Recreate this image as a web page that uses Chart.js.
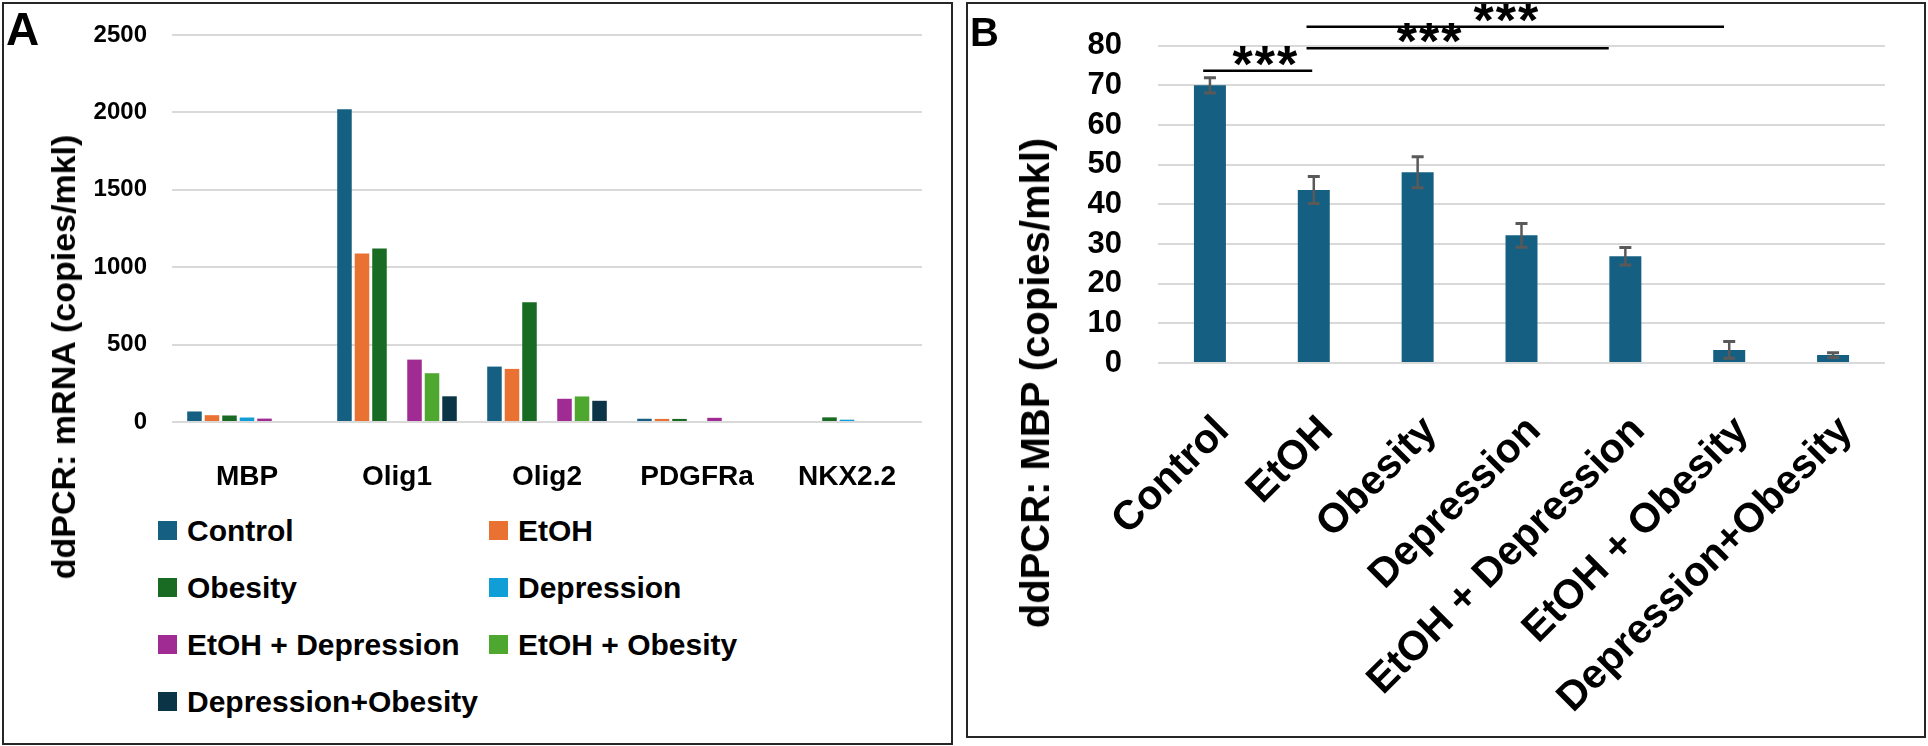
<!DOCTYPE html>
<html>
<head>
<meta charset="utf-8">
<script src="https://cdn.jsdelivr.net/npm/chart.js@4.4.1/dist/chart.umd.min.js"></script>
<style>
  body { margin: 0; width: 1928px; height: 746px; background: #fff; position: relative; overflow: hidden;
         font-family: "Liberation Sans", Arial, sans-serif; font-weight: bold; color: #000; }
  .frame { position: absolute; border: 2px solid #262626; box-sizing: border-box; }
  #frameA { left: 2px; top: 2px; width: 951px; height: 743px; }
  #frameB { left: 966px; top: 2px; width: 960px; height: 736px; }
  canvas { position: absolute; }
  .letter { position: absolute; line-height: 1; }
  .ytitle { position: absolute; white-space: nowrap; line-height: 1; transform: translate(-50%, -50%) rotate(-90deg); }
  #legendA { position: absolute; left: 158px; top: 502px; display: grid; grid-template-columns: 331px auto; }
  .item { display: flex; align-items: center; height: 57px; font-size: 30px; white-space: nowrap; }
  .swatch { width: 19px; height: 19px; margin-right: 10px; flex: none; }
</style>
</head>
<body>
<div class="frame" id="frameA"></div>
<div class="frame" id="frameB"></div>
<canvas id="chartA" width="946" height="496" style="left:4px;top:4px;width:946px;height:496px"></canvas>
<canvas id="chartB" width="954" height="730" style="left:969px;top:4px;width:954px;height:730px"></canvas>
<div class="letter" style="left:6px;top:6px;font-size:46px">A</div>
<div class="letter" style="left:970px;top:12px;font-size:40px">B</div>
<div class="ytitle" style="left:63px;top:357px;font-size:34px">ddPCR: mRNA (copies/mkl)</div>
<div class="ytitle" style="left:1035px;top:383px;font-size:40px">ddPCR: MBP (copies/mkl)</div>
<div id="legendA"></div>
<script>
// panel A: genes x groups
const genes = ["MBP", "Olig1", "Olig2", "PDGFRa", "NKX2.2"];
const groups = ["Control", "EtOH", "Obesity", "Depression", "EtOH + Depression", "EtOH + Obesity", "Depression+Obesity"];
const groupColors = ["#156082", "#E97132", "#196B24", "#0F9ED5", "#A02B93", "#4EA72E", "#0B3447"];

const controlA = [68, 2020, 358, 21, 0];
const etohA = [44, 1088, 343, 20, 0];
const obesityA = [42, 1120, 773, 20, 30];
const depressionA = [29, 0, 0, 0, 15];
const etohDepA = [22, 403, 150, 27, 0];
const etohObA = [0, 315, 165, 0, 0];
const depObA = [0, 166, 137, 0, 0];
const seriesA = [controlA, etohA, obesityA, depressionA, etohDepA, etohObA, depObA];

const yTicksA = [0, 500, 1000, 1500, 2000, 2500];

// panel B: MBP per group, with error bars
const groupsB = ["Control", "EtOH", "Obesity", "Depression", "EtOH + Depression", "EtOH + Obesity", "Depression+Obesity"];
const mbpValues = [70, 43.6, 48.1, 32.2, 26.9, 3.3, 2.0];
const mbpErrors = [1.9, 3.4, 3.9, 3.0, 2.2, 2.1, 0.6];
const yTicksB = [0, 10, 20, 30, 40, 50, 60, 70, 80];

// significance brackets (category index from/to, level in y units)
const sigFrom = [-0.065, 0.93, 0.93];
const sigTo = [0.985, 3.84, 4.95];
const sigLevel = [73.7, 79.35, 84.8];
const sigStarAt = [0.53, 2.11, 2.85];
const sigText = ["***", "***", "***"];

const FONT = '"Liberation Sans", Arial, sans-serif';

// legend for A
const legendA = document.querySelector("#legendA");
groups.forEach((name, i) => {
  const item = document.createElement("div");
  item.className = "item";
  const sw = document.createElement("span");
  sw.className = "swatch";
  sw.style.background = groupColors[i];
  item.appendChild(sw);
  item.appendChild(document.createTextNode(name));
  legendA.appendChild(item);
});

// keep the scales from adding their own label padding to the layout
const fixY = (w) => (scale) => { scale.width = w; scale.paddingTop = 0; scale.paddingBottom = 0; };
const fixX = (h) => (scale) => { scale.height = h; scale.paddingLeft = 0; scale.paddingRight = 0; };

new Chart(document.querySelector("#chartA"), {
  type: "bar",
  data: {
    labels: genes,
    datasets: seriesA.map((data, i) => ({
      label: groups[i],
      data: data,
      backgroundColor: groupColors[i],
      categoryPercentage: 0.817,
      barPercentage: 0.83,
    })),
  },
  options: {
    responsive: false,
    animation: false,
    layout: { padding: { top: 31, right: 28, left: 0, bottom: 0 } },
    plugins: { legend: { display: false }, tooltip: { enabled: false } },
    scales: {
      x: {
        grid: { display: false },
        border: { display: false },
        ticks: { color: "#000", font: { family: FONT, size: 28, weight: "bold" }, padding: 30, maxRotation: 0, autoSkip: false },
        afterFit: fixX(78),
      },
      y: {
        min: 0,
        max: 2500,
        afterBuildTicks: (scale) => { scale.ticks = yTicksA.map((v) => ({ value: v })); },
        grid: { color: "#d9d9d9", lineWidth: 2, drawTicks: false },
        border: { display: false },
        ticks: { color: "#000", font: { family: FONT, size: 24, weight: "bold" }, padding: 25, autoSkip: false, callback: (v) => String(v) },
        afterFit: fixY(168),
      },
    },
  },
});

const errorBars = {
  id: "errorBars",
  afterDatasetsDraw(chart) {
    const ctx = chart.ctx;
    const y = chart.scales.y;
    const meta = chart.getDatasetMeta(0);
    ctx.save();
    ctx.strokeStyle = "#595959";
    meta.data.forEach((bar, i) => {
      const top = y.getPixelForValue(mbpValues[i] + mbpErrors[i]);
      const bot = y.getPixelForValue(mbpValues[i] - mbpErrors[i]);
      ctx.lineWidth = 2.5;
      ctx.beginPath();
      ctx.moveTo(bar.x, top);
      ctx.lineTo(bar.x, bot);
      ctx.stroke();
      ctx.lineWidth = 3;
      ctx.beginPath();
      ctx.moveTo(bar.x - 6, top);
      ctx.lineTo(bar.x + 6, top);
      ctx.moveTo(bar.x - 6, bot);
      ctx.lineTo(bar.x + 6, bot);
      ctx.stroke();
    });
    ctx.restore();
  },
};

const sigMarks = {
  id: "sigMarks",
  afterDraw(chart) {
    const ctx = chart.ctx;
    const x = chart.scales.x;
    const y = chart.scales.y;
    ctx.save();
    ctx.strokeStyle = "#000";
    ctx.fillStyle = "#000";
    ctx.lineWidth = 2.5;
    ctx.font = "bold 52px " + FONT;
    ctx.letterSpacing = "2px";
    ctx.textAlign = "center";
    ctx.textBaseline = "alphabetic";
    sigLevel.forEach((lv, k) => {
      const py = y.getPixelForValue(lv);
      ctx.beginPath();
      ctx.moveTo(x.getPixelForValue(sigFrom[k]), py);
      ctx.lineTo(x.getPixelForValue(sigTo[k]), py);
      ctx.stroke();
      ctx.fillText(sigText[k], x.getPixelForValue(sigStarAt[k]) + 1, py + 11);
    });
    ctx.restore();
  },
};

new Chart(document.querySelector("#chartB"), {
  type: "bar",
  data: {
    labels: groupsB,
    datasets: [{
      label: "MBP",
      data: mbpValues,
      backgroundColor: "#156082",
      categoryPercentage: 1,
      barPercentage: 0.308,
    }],
  },
  plugins: [errorBars, sigMarks],
  options: {
    responsive: false,
    animation: false,
    layout: { padding: { top: 41.7, right: 38, left: 0, bottom: 0 } },
    plugins: { legend: { display: false }, tooltip: { enabled: false } },
    scales: {
      x: {
        grid: { display: false },
        border: { display: false },
        ticks: { color: "#000", font: { family: FONT, size: 41, weight: "bold" }, padding: 36, labelOffset: 13, minRotation: 45, maxRotation: 45, autoSkip: false },
        afterFit: fixX(371),
      },
      y: {
        min: 0,
        max: 80,
        afterBuildTicks: (scale) => { scale.ticks = yTicksB.map((v) => ({ value: v })); },
        grid: { color: "#d9d9d9", lineWidth: 2, drawTicks: false },
        border: { display: false },
        ticks: { color: "#000", font: { family: FONT, size: 31, weight: "bold" }, padding: 36, autoSkip: false, callback: (v) => String(v) },
        afterFit: fixY(189),
      },
    },
  },
});
</script>
</body>
</html>
